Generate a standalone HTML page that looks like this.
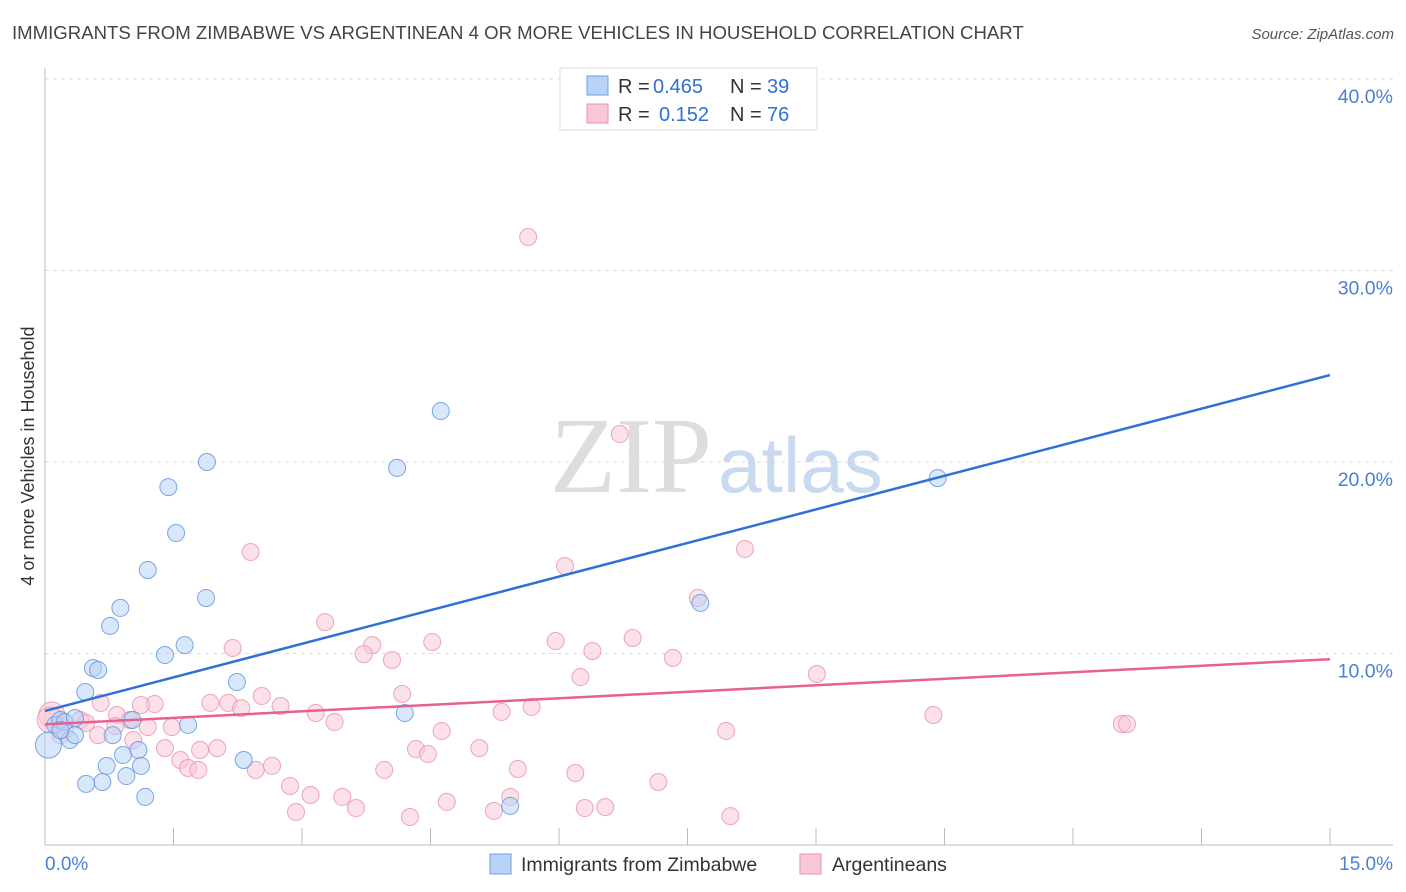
<!DOCTYPE html>
<html><head><meta charset="utf-8">
<style>
body{margin:0;background:#fff;font-family:"Liberation Sans",sans-serif;}
svg{display:block}
</style></head>
<body>
<svg id="chart" width="1406" height="892">
<text x="12" y="39" font-size="18.6" fill="#444">IMMIGRANTS FROM ZIMBABWE VS ARGENTINEAN 4 OR MORE VEHICLES IN HOUSEHOLD CORRELATION CHART</text>
<text x="1394" y="39" font-size="15" fill="#555" font-style="italic" text-anchor="end">Source: ZipAtlas.com</text>
<g id="grid"></g>
<text x="712" y="492" font-size="108" fill="#ddd" text-anchor="end" font-family="Liberation Serif,serif">ZIP</text>
<text x="718" y="492" font-size="78" fill="#c9d9f0">atlas</text>
<g id="points"></g>
<g id="lines"></g>
<text transform="translate(34,456) rotate(-90)" font-size="18" fill="#333" text-anchor="middle">4 or more Vehicles in Household</text>
<text x="45" y="870" font-size="19" fill="#4a7fd4">0.0%</text>
<text x="1393" y="870" font-size="19" fill="#4a7fd4" text-anchor="end">15.0%</text>
<g>
<rect x="560" y="68" width="257" height="62" fill="#fff" stroke="#ddd"/>
<rect x="587" y="76" width="21" height="19" fill="#b8d3f5" stroke="#6a9fe0"/>
<rect x="587" y="104" width="21" height="19" fill="#f9c8d7" stroke="#e890ad"/>
<text x="618" y="93" font-size="20" fill="#333">R =</text>
<text x="653" y="93" font-size="20" fill="#2f6fd6">0.465</text>
<text x="730" y="93" font-size="20" fill="#333">N =</text>
<text x="767" y="93" font-size="20" fill="#2f6fd6">39</text>
<text x="618" y="121" font-size="20" fill="#333">R =</text>
<text x="659" y="121" font-size="20" fill="#2f6fd6">0.152</text>
<text x="730" y="121" font-size="20" fill="#333">N =</text>
<text x="767" y="121" font-size="20" fill="#2f6fd6">76</text>
</g>
<g>
<rect x="490" y="854" width="21" height="20" fill="#b8d3f5" stroke="#6a9fe0"/>
<text x="521" y="871" font-size="19.5" fill="#333">Immigrants from Zimbabwe</text>
<rect x="800" y="854" width="21" height="20" fill="#f9c8d7" stroke="#e890ad"/>
<text x="832" y="871" font-size="19.5" fill="#333">Argentineans</text>
</g>
</svg>
<script>
const yTicks=[10,20,30,40];
const yTickLabels=["10.0%","20.0%","30.0%","40.0%"];
const xTicks=[1.5,3,4.5,6,7.5,9,10.5,12,13.5,15];
const blueX=[0.04,0.12,0.18,0.23,0.35,0.29,0.35,0.47,0.56,0.62,0.76,0.88,1.20,1.44,1.53,1.89,1.88,1.63,1.40,2.24,1.67,1.02,0.79,1.09,0.91,0.72,1.12,0.95,0.67,0.48,1.17,2.32,4.20,4.62,4.11,7.65,5.43,10.42,0.18];
const blueY=[5.22,6.27,6.53,6.42,6.63,5.48,5.74,7.99,9.24,9.14,11.44,12.38,14.36,18.69,16.29,20.0,12.9,10.44,9.92,8.51,6.27,6.53,5.74,4.96,4.70,4.13,4.13,3.60,3.29,3.19,2.51,4.44,6.89,22.66,19.69,12.64,2.04,19.16,6.0];
const pinkX=[5.64,6.71,8.17,6.07,7.62,2.40,3.27,3.82,3.72,4.05,4.52,5.96,6.39,6.86,7.33,6.25,9.01,2.19,2.53,2.75,1.93,2.14,2.29,1.28,1.12,0.65,0.84,0.99,1.20,1.48,0.41,0.23,0.08,0.18,1.03,1.40,1.58,1.67,1.79,1.81,2.01,2.46,2.65,2.86,3.10,2.93,3.16,3.38,3.47,3.63,3.96,4.17,4.33,4.47,4.63,4.26,4.69,5.07,5.33,5.68,5.52,5.24,5.43,6.19,6.30,6.54,7.16,7.95,8.00,10.37,12.57,12.63,0.06,0.62,0.82,0.48];
const pinkY=[31.75,21.46,15.46,14.57,12.90,15.30,11.64,10.44,9.97,9.66,10.60,10.65,10.13,10.81,9.77,8.77,8.93,10.29,7.78,7.26,7.42,7.42,7.15,7.36,7.31,7.42,6.79,6.53,6.16,6.16,6.53,6.0,6.79,5.74,5.48,5.06,4.44,4.02,3.92,4.96,5.06,3.92,4.13,3.08,2.61,1.72,6.89,6.42,2.51,1.93,3.92,7.89,5.01,4.75,5.95,1.46,2.25,5.06,6.95,7.21,3.97,1.78,2.51,3.76,1.93,1.98,3.29,5.95,1.51,6.79,6.32,6.32,6.53,5.74,6.21,6.37];
const blueTrend=[7.0,24.54];
const pinkTrend=[6.3,9.7];
const NS="http://www.w3.org/2000/svg";
const X0=45,X1=1330,Y0=845,YPER=19.15;
const sx=v=>X0+(v/15)*(X1-X0);
const sy=v=>Y0-v*YPER;
function mk(t,a,parent){const e=document.createElementNS(NS,t);for(const k in a)e.setAttribute(k,a[k]);parent.appendChild(e);return e;}
const grid=document.getElementById('grid');
yTicks.forEach((t,i)=>{
 const l=mk('line',{x1:X0,x2:1393,y1:sy(t),y2:sy(t),stroke:'#ddd','stroke-dasharray':'4,4'},grid);
 
 
 const tx=mk('text',{x:1393,y:sy(t)+24,'font-size':19.5,fill:'#4a7fd4','text-anchor':'end'},grid);
 tx.textContent=yTickLabels[i];
 
 
});
const ax=mk('line',{x1:X0,x2:X0,y1:68,y2:Y0,stroke:'#bbb'},grid);


const bx=mk('line',{x1:X0,x2:1393,y1:Y0,y2:Y0,stroke:'#bbb'},grid);


xTicks.forEach(t=>{
 const l=mk('line',{x1:sx(t),x2:sx(t),y1:Y0,y2:Y0-17,stroke:'#bbb'},grid);
 
 
});
const pts=document.getElementById('points');
function drawSeries(xs,ys,fill,stroke,name){
 xs.forEach((x,i)=>{
  const big=(x<0.1);
  const c=mk('circle',{cx:sx(x),cy:sy(ys[i]),r:big?13:8.5,fill:fill,'fill-opacity':0.55,stroke:stroke,'stroke-opacity':0.8,'stroke-width':1},pts);
  
  
 });
}
drawSeries(pinkX,pinkY,'#f9c8d7','#e890ad','argentineans-point');
drawSeries(blueX,blueY,'#b8d3f5','#5a92e0','zimbabwe-point');
const lines=document.getElementById('lines');
const bl=mk('line',{x1:sx(0),y1:sy(blueTrend[0]),x2:sx(15),y2:sy(blueTrend[1]),stroke:'#2f6fd6','stroke-width':2.5},lines);


const pl=mk('line',{x1:sx(0),y1:sy(pinkTrend[0]),x2:sx(15),y2:sy(pinkTrend[1]),stroke:'#e8608e','stroke-width':2.5},lines);


</script>
</body></html>
